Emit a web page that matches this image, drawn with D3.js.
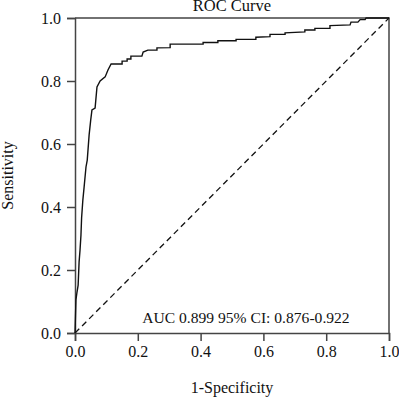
<!DOCTYPE html>
<html>
<head>
<meta charset="utf-8">
<script src="https://cdn.jsdelivr.net/npm/d3@7"></script>
<style>
  body { margin: 0; background: #fff; }
  svg { display: block; font-family: "Liberation Serif", "DejaVu Serif", serif; }
</style>
</head>
<body>
<div id="chart"></div>
<script>
// ROC curve vertices (1-specificity, sensitivity)
const fpr = [0, 0.003, 0.006, 0.010, 0.013, 0.016, 0.019, 0.021, 0.025, 0.029, 0.035, 0.039,
  0.045, 0.050, 0.054, 0.064, 0.070, 0.080, 0.096, 0.105, 0.115, 0.150, 0.150, 0.166, 0.166,
  0.178, 0.178, 0.213, 0.217, 0.232, 0.261, 0.261, 0.303, 0.303, 0.408, 0.408, 0.455, 0.455,
  0.513, 0.513, 0.576, 0.576, 0.621, 0.621, 0.669, 0.669, 0.732, 0.732, 0.764, 0.764, 0.812,
  0.812, 0.876, 0.879, 0.901, 0.908, 0.924, 0.927, 1.0];
const tpr = [0, 0.105, 0.127, 0.152, 0.225, 0.263, 0.311, 0.365, 0.422, 0.463, 0.527, 0.549,
  0.629, 0.676, 0.708, 0.714, 0.781, 0.800, 0.813, 0.835, 0.854, 0.854, 0.863, 0.863, 0.870,
  0.870, 0.879, 0.879, 0.892, 0.898, 0.898, 0.905, 0.906, 0.917, 0.917, 0.922, 0.922, 0.928,
  0.928, 0.932, 0.932, 0.939, 0.941, 0.948, 0.948, 0.953, 0.956, 0.962, 0.962, 0.967, 0.967,
  0.976, 0.978, 0.987, 0.987, 0.995, 0.995, 1.0, 1.0];
const ticks = [0, 0.2, 0.4, 0.6, 0.8, 1.0];
const titleText = "ROC Curve";
const aucText = "AUC 0.899 95% CI: 0.876-0.922";

const width = 399, height = 400;
const margin = { top: 18, right: 10, bottom: 67, left: 75 };
const plotW = 314, plotH = 315;

const svg = d3.select("#chart").append("svg")
  .attr("width", width)
  .attr("height", height);

const g = svg.append("g")
  .attr("transform", `translate(${margin.left},${margin.top})`);

const x = d3.scaleLinear().domain([0, 1]).range([0, plotW]);
const y = d3.scaleLinear().domain([0, 1]).range([plotH, 0]);

const axisColor = "#444";

// frame (top and right sides)
g.append("path")
  .attr("d", `M0,0H${plotW}V${plotH}`)
  .attr("fill", "none")
  .attr("stroke", axisColor)
  .attr("stroke-width", 1.5);

// axes
g.append("g")
  .attr("transform", `translate(0,${plotH})`)
  .call(d3.axisBottom(x).tickValues(ticks).tickFormat(d3.format(".1f")).tickSize(8).tickPadding(5))
  .call(a => {
    a.selectAll("path, line").attr("stroke", axisColor).attr("stroke-width", 1.5);
    a.selectAll("text").attr("fill", "#111").style("font-size", "16px")
      .style("font-family", "Liberation Serif, serif");
  });

g.append("g")
  .call(d3.axisLeft(y).tickValues(ticks).tickFormat(d3.format(".1f")).tickSize(8).tickPadding(6))
  .call(a => {
    a.selectAll("path, line").attr("stroke", axisColor).attr("stroke-width", 1.5);
    a.selectAll("text").attr("fill", "#111").style("font-size", "16px")
      .style("font-family", "Liberation Serif, serif");
  });

// reference diagonal
g.append("line")
  .attr("x1", x(0)).attr("y1", y(0))
  .attr("x2", x(1)).attr("y2", y(1))
  .attr("stroke", "#111")
  .attr("stroke-width", 1.3)
  .attr("stroke-dasharray", "6,4");

// ROC curve
const pts = fpr.map((f, i) => [f, tpr[i]]);
g.append("path")
  .datum(pts)
  .attr("fill", "none")
  .attr("stroke", "#111")
  .attr("stroke-width", 1.4)
  .attr("d", d3.line().x(d => x(d[0])).y(d => y(d[1])));

// AUC annotation
g.append("text")
  .attr("x", x(0.214))
  .attr("y", plotH - 10)
  .attr("fill", "#111")
  .style("font-size", "15.6px")
  .text(aucText);

// title
svg.append("text")
  .attr("x", margin.left + plotW / 2)
  .attr("y", 11)
  .attr("text-anchor", "middle")
  .attr("fill", "#111")
  .style("font-size", "16.5px")
  .text(titleText);

// axis titles
svg.append("text")
  .attr("x", margin.left + plotW / 2)
  .attr("y", 393)
  .attr("text-anchor", "middle")
  .attr("fill", "#111")
  .style("font-size", "16px")
  .text("1-Specificity");

svg.append("text")
  .attr("transform", `translate(13,${margin.top + plotH / 2}) rotate(-90)`)
  .attr("text-anchor", "middle")
  .attr("fill", "#111")
  .style("font-size", "16px")
  .text("Sensitivity");
</script>
</body>
</html>
